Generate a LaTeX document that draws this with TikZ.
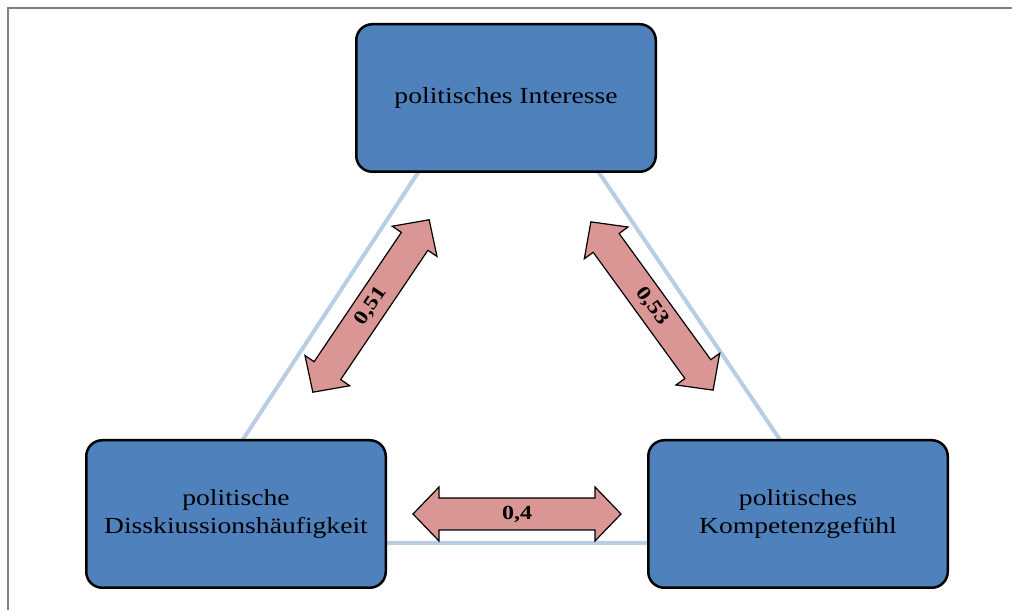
\documentclass[tikz,border=0pt]{standalone}
\usepackage{fontspec}
\setmainfont{Liberation Serif}[FakeStretch=1.2]
\usetikzlibrary{calc,backgrounds}
\definecolor{boxBlue}{RGB}{79,129,189}
\definecolor{lineBlue}{RGB}{185,205,229}
\definecolor{arrowRed}{RGB}{217,150,148}
\definecolor{frameGray}{RGB}{128,128,128}
\tikzset{
    base/.style={font=\fontsize{23}{28}\selectfont, align=center},
    factor/.style={base, rectangle, rounded corners=16pt, draw=black, line width=2.5pt,
                   fill=boxBlue, text=black, minimum width=299.5pt, minimum height=147.5pt},
    link/.style={draw=black, line width=1.2pt, fill=arrowRed, line join=miter},
    value/.style={font=\fontsize{20}{24}\selectfont\bfseries, inner sep=1pt, transform shape},
    side/.style={draw=lineBlue, line width=4pt},
    pics/corr/.style={code={
        \draw[link] (-104,0) -- (-78,27) -- (-78,16) -- (78,16) -- (78,27) -- (104,0)
                    -- (78,-27) -- (78,-16) -- (-78,-16) -- (-78,-27) -- cycle;
        \node[value] (-val) at (0,0) {#1};
    }}
}
\begin{document}
\begin{tikzpicture}[x=1pt, y=1pt]
  \useasboundingbox (0,0) rectangle (1012,610);
  % page frame
  \draw[frameGray, line width=2pt] (8,-20) -- (8,602) -- (1030,602);

  % the three factors
  \node[factor] (interesse) at (506,512) {politisches Interesse};
  \node[factor] (diskussion) at (236,96) {politische\\Disskiussionshäufigkeit};
  \node[factor] (kompetenz) at (798,96) {politisches\\Kompetenzgefühl};

  % triangle behind the boxes
  \coordinate (apex) at (507,573);
  \coordinate (baseL) at (175,67);
  \coordinate (baseR) at (850,67);
  \begin{scope}[on background layer]
    \draw[side] (apex) -- (baseL) -- (baseR) -- cycle;
  \end{scope}

  % correlations
  \pic[rotate=56] (r1) at ($(interesse)!0.5!(diskussion)$) {corr={0,51}};
  \pic[rotate=-54] (r2) at ($(interesse)!0.5!(kompetenz)$) {corr={0,53}};
  \pic (r3) at ($(diskussion)!0.5!(kompetenz)$) {corr={0,4}};
\end{tikzpicture}
\end{document}
